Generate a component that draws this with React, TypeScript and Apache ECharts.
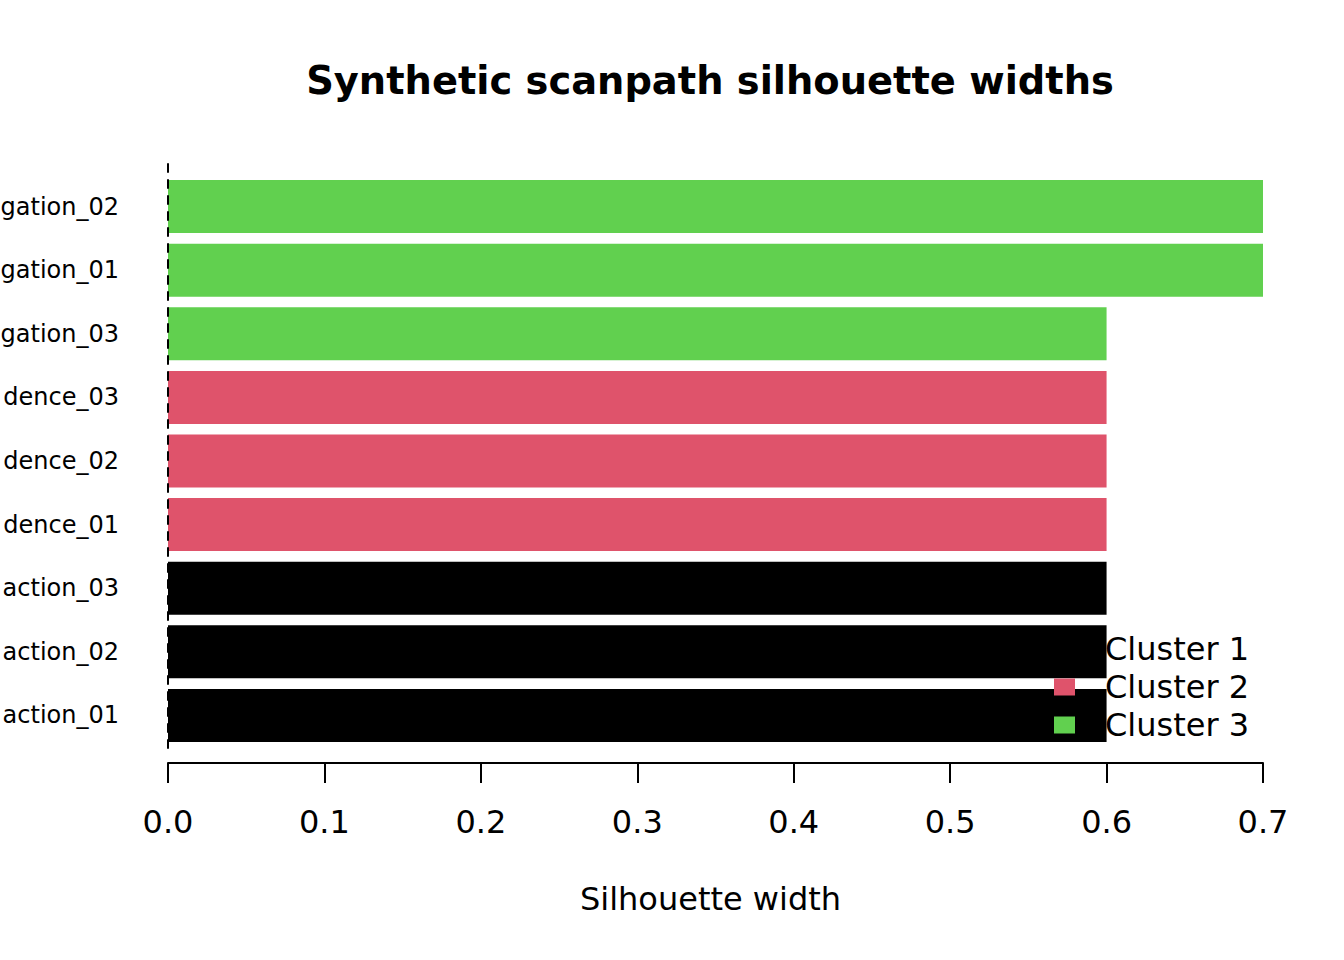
import React, { useEffect, useRef } from "react";
import * as echarts from "echarts";

// Category labels as visible in the reference (their left parts are cut off there)
const categories = [
  "action_01",
  "action_02",
  "action_03",
  "dence_01",
  "dence_02",
  "dence_03",
  "gation_03",
  "gation_01",
  "gation_02",
];
const silWidths = [0.6, 0.6, 0.6, 0.6, 0.6, 0.6, 0.6, 0.7, 0.7];
const clusterOf = [1, 1, 1, 2, 2, 2, 3, 3, 3];
const clusterNames = ["Cluster 1", "Cluster 2", "Cluster 3"];
const clusterColors = ["#000000", "#DF536B", "#61D04F"];
const xTicks = [0, 0.1, 0.2, 0.3, 0.4, 0.5, 0.6, 0.7];

const FONT = "DejaVu Sans";

export default function App() {
  const ref = useRef<HTMLDivElement>(null);
  useEffect(() => {
    if (!ref.current) return;
    const chart = echarts.init(ref.current, null, { renderer: "svg" });
    const series = clusterNames.map((name, ci) => ({
      type: "bar",
      name,
      stack: "sil",
      xAxisIndex: 0,
      yAxisIndex: 0,
      barWidth: 53,
      itemStyle: { color: clusterColors[ci] },
      data: silWidths.map((v, j) => (clusterOf[j] === ci + 1 ? v : "-")),
    }));
    chart.setOption({
      animation: false,
      backgroundColor: "#ffffff",
      title: {
        text: "Synthetic scanpath silhouette widths",
        left: 710,
        top: 61,
        padding: 0,
        textAlign: "center",
        textStyle: {
          fontFamily: FONT,
          fontSize: 38.4,
          fontWeight: "bold",
          color: "#000",
        },
      },
      legend: {
        orient: "vertical",
        left: 1054,
        top: 633,
        padding: 0,
        itemWidth: 21,
        itemHeight: 17,
        itemGap: 6,
        icon: "rect",
        data: clusterNames,
        formatter: (name: string) => `{p| }{t|${name}}`,
        textStyle: {
          fontFamily: FONT,
          fontSize: 32,
          color: "#000",
          rich: {
            p: { width: 25, fontSize: 32, fontFamily: FONT },
            t: { fontSize: 32, fontFamily: FONT, color: "#000" },
          },
        },
      },
      grid: [
        {
          left: 168,
          right: 81,
          top: 174.7,
          bottom: 212.7,
          containLabel: false,
          outerBoundsMode: "none",
        },
        {
          left: 168,
          width: 1,
          top: 163,
          height: 585,
          containLabel: false,
          outerBoundsMode: "none",
        },
      ],
      xAxis: [
        {
          type: "value",
          gridIndex: 0,
          min: 0,
          max: 0.7,
          interval: 0.1,
          offset: 15.7,
          name: "Silhouette width",
          nameLocation: "middle",
          nameGap: 120,
          nameTextStyle: {
            fontFamily: FONT,
            fontSize: 32,
            color: "#000",
            padding: [0, 10, 0, 0],
          },
          axisLine: { show: true, lineStyle: { color: "#000", width: 2 } },
          axisTick: { show: true, length: 20, lineStyle: { color: "#000", width: 2 } },
          axisLabel: {
            margin: 43,
            fontFamily: FONT,
            fontSize: 32,
            color: "#000",
            formatter: (v: number) => {
              const t = xTicks.find((x) => Math.abs(x - v) < 1e-9);
              return (t ?? v).toFixed(1);
            },
          },
          splitLine: { show: false },
        },
        {
          type: "value",
          gridIndex: 1,
          show: false,
        },
      ],
      yAxis: [
        {
          type: "category",
          gridIndex: 0,
          data: categories,
          axisLine: { show: false },
          axisTick: { show: false },
          axisLabel: {
            margin: 49,
            fontFamily: FONT,
            fontSize: 24,
            color: "#000",
          },
          splitLine: { show: false },
        },
        {
          type: "value",
          gridIndex: 1,
          z: 10,
          axisLine: {
            show: true,
            onZero: false,
            lineStyle: { color: "#000", width: 2, type: [8, 8] },
          },
          axisTick: { show: false },
          axisLabel: { show: false },
          splitLine: { show: false },
        },
      ],
      series,
    });
    return () => chart.dispose();
  }, []);
  return (
    <div
      ref={ref}
      style={{ position: "absolute", left: 0, top: 0, width: 1344, height: 960 }}
    />
  );
}
